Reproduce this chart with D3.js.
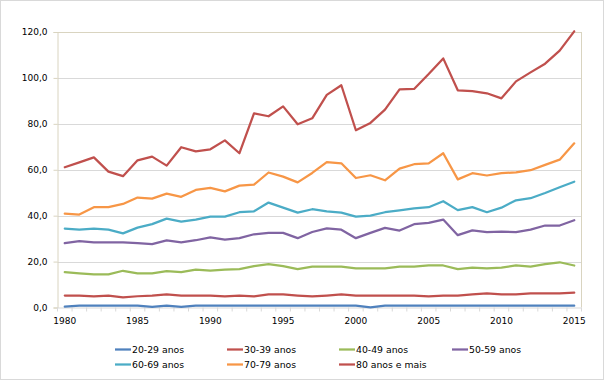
<!DOCTYPE html>
<html>
<head>
<meta charset="utf-8">
<script src="https://cdn.jsdelivr.net/npm/d3@7"></script>
<style>
html,body{margin:0;padding:0;background:#fff;}
svg{display:block;font-family:"DejaVu Sans",Verdana,sans-serif;}
</style>
</head>
<body>
<svg id="chart" width="604" height="380"></svg>
<script>
const years = d3.range(1980, 2016);
const yTicks = [0, 20, 40, 60, 80, 100, 120];
const xTickLabels = [1980, 1985, 1990, 1995, 2000, 2005, 2010, 2015];
const seriesNames = ["20-29 anos","30-39 anos","40-49 anos","50-59 anos","60-69 anos","70-79 anos","80 anos e mais"];
const seriesColors = ["#4F81BD","#C0504D","#9BBB59","#8064A2","#4BACC6","#F79646","#C0504D"];

const a2029 = [0.4,0.8,0.8,0.8,0.8,0.8,0.3,0.8,0.3,0.8,0.8,0.8,0.8,0.8,0.8,0.8,0.8,0.8,0.8,0.8,0.8,0.1,0.8,0.8,0.8,0.8,0.8,0.8,0.8,0.8,0.8,0.8,0.8,0.8,0.8,0.8];
const a3039 = [5.2,5.2,4.8,5.2,4.4,4.9,5.2,5.7,5.2,5.2,5.2,4.8,5.2,4.8,5.7,5.7,5.2,4.8,5.2,5.7,5.2,5.2,5.2,5.2,5.2,4.8,5.2,5.2,5.7,6.1,5.7,5.7,6.1,6.1,6.1,6.5];
const a4049 = [15.4,14.9,14.4,14.4,16.0,14.9,14.9,15.8,15.4,16.5,16.1,16.5,16.7,18.0,18.9,18.0,16.7,17.8,17.8,17.8,17.0,17.0,17.0,17.8,17.8,18.3,18.3,16.7,17.4,17.0,17.4,18.3,17.8,18.9,19.7,18.3];
const a5059 = [28.0,28.9,28.4,28.4,28.4,28.0,27.6,29.2,28.4,29.3,30.5,29.6,30.2,31.9,32.5,32.5,30.2,32.9,34.5,33.9,30.2,32.5,34.7,33.5,36.3,36.9,38.3,31.5,33.6,32.8,33.1,32.8,33.9,35.7,35.7,38.0];
const a6069 = [34.4,33.9,34.4,33.9,32.3,34.8,36.3,38.7,37.4,38.3,39.6,39.6,41.5,41.9,45.7,43.5,41.3,42.8,41.9,41.3,39.6,40.0,41.5,42.3,43.2,43.7,46.3,42.4,43.7,41.5,43.5,46.7,47.6,49.9,52.4,54.8];
const a7079 = [40.9,40.5,43.7,43.7,45.1,47.9,47.4,49.6,48.2,51.2,52.1,50.6,53.1,53.5,58.8,57.0,54.5,58.6,63.3,62.8,56.4,57.6,55.4,60.5,62.4,62.8,67.2,55.8,58.5,57.5,58.5,58.9,59.8,62.1,64.4,71.5];
const a80 = [61.1,63.2,65.4,59.2,57.2,64.1,65.7,61.8,69.8,68.0,68.9,72.8,67.2,84.6,83.3,87.6,79.8,82.4,92.6,96.8,77.2,80.4,86.2,95.0,95.2,101.7,108.5,94.6,94.2,93.3,91.1,98.5,102.4,106.2,111.9,120.3];

const seriesValues = [a2029, a3039, a4049, a5059, a6069, a7079, a80];

const svg = d3.select("#chart");
const L = 57.5, R = 581.5, T = 32, B = 307.5;

// outer chart border
svg.append("rect").attr("x",0.5).attr("y",0.5).attr("width",603).attr("height",379)
  .attr("fill","#fff").attr("stroke","#d9d9d9");

const x = d3.scalePoint().domain(years).range([L, R]).padding(0.5);
const y = d3.scaleLinear().domain([0, 120]).range([B, T]);

// gridlines
svg.append("g").selectAll("line").data(yTicks.filter(d => d > 0 && d < 120)).join("line")
  .attr("x1", L).attr("x2", R)
  .attr("y1", d => Math.round(y(d)) + 0.5).attr("y2", d => Math.round(y(d)) + 0.5)
  .attr("stroke", "#d9d9d9").attr("stroke-width", 1);

// plot border top/right
const bc = "#d9d4c0";
svg.append("line").attr("x1", L).attr("x2", R).attr("y1", Math.round(T)+0.5).attr("y2", Math.round(T)+0.5).attr("stroke", bc);
svg.append("line").attr("x1", R).attr("x2", R).attr("y1", T).attr("y2", B).attr("stroke", bc);

// y axis
const yAxis = d3.axisLeft(y).tickValues(yTicks).tickSize(4).tickPadding(6)
  .tickFormat(d => d3.format(".1f")(d).replace(".", ","));
const gy = svg.append("g").attr("transform", `translate(${L},0)`).call(yAxis);
gy.select(".domain").attr("stroke", bc);
gy.selectAll(".tick line").attr("stroke", bc);
gy.selectAll(".tick text").attr("font-size", 9).attr("fill", "#000")
  .attr("font-family", "'DejaVu Sans', Verdana, sans-serif");

// x axis
const step = x.step();
const gx = svg.append("g").attr("transform", `translate(0,${B})`);
gx.append("line").attr("x1", L).attr("x2", R).attr("y1", 0.5).attr("y2", 0.5).attr("stroke", "#d9d9d9");
gx.selectAll("line.tk").data(d3.range(0, years.length + 1)).join("line").attr("class","tk")
  .attr("x1", i => L + i * step).attr("x2", i => L + i * step)
  .attr("y1", 0).attr("y2", 4).attr("stroke", "#d9d9d9");
gx.selectAll("text").data(xTickLabels).join("text")
  .attr("x", d => x(d)).attr("y", 16).attr("text-anchor", "middle")
  .attr("font-size", 9).attr("fill", "#000").text(d => d);

// lines
const line = d3.line().x((d, i) => x(years[i])).y(d => y(d));
svg.append("g").selectAll("path").data(seriesValues).join("path")
  .attr("d", d => line(d)).attr("fill", "none")
  .attr("stroke", (d, i) => seriesColors[i]).attr("stroke-width", 2.25)
  .attr("stroke-linejoin", "round").attr("stroke-linecap", "round");

// legend
const legX = [115, 227, 339, 452];
const legY = [349.5, 364.5];
const lg = svg.append("g");
seriesNames.forEach((name, i) => {
  const cx = legX[i % 4], cy = legY[Math.floor(i / 4)];
  lg.append("line").attr("x1", cx).attr("x2", cx + 16).attr("y1", cy).attr("y2", cy)
    .attr("stroke", seriesColors[i]).attr("stroke-width", 2.25);
  lg.append("text").attr("x", cx + 17).attr("y", cy + 3.5).attr("font-size", 9.3)
    .attr("fill", "#000").text(name);
});
</script>
</body>
</html>
